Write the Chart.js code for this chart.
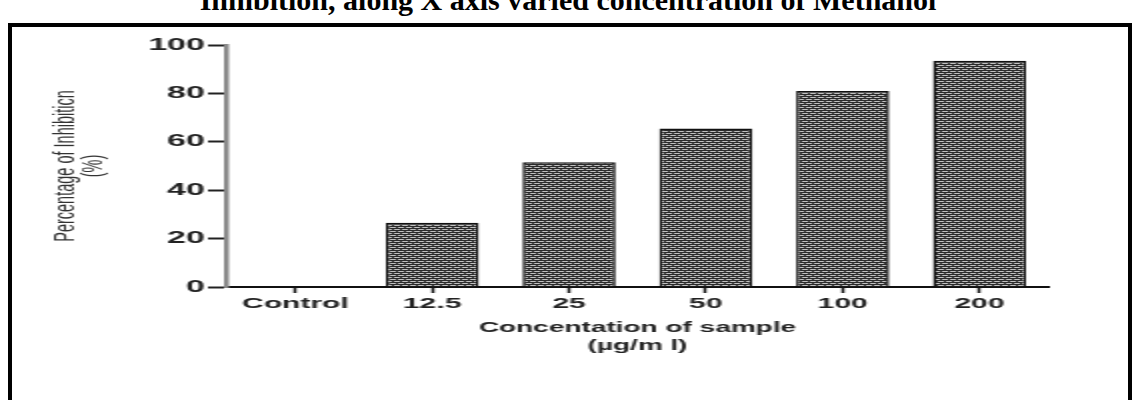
<!DOCTYPE html>
<html><head><meta charset="utf-8">
<script src="https://cdn.jsdelivr.net/npm/chart.js@4"></script>
<style>
html,body{margin:0;padding:0;background:#fff;width:1136px;height:400px;overflow:hidden;position:relative}
#title{position:absolute;left:0;width:1136px;top:-15px;text-align:center;font-family:"Liberation Serif";font-weight:bold;font-size:30px;line-height:30px;white-space:nowrap;color:#000}
#frame{position:absolute;left:8px;top:23px;width:1116px;height:420px;border:4px solid #000}
#wrap{position:absolute;left:0;top:0;width:568px;height:400px;transform:scaleX(2);transform-origin:0 0}
</style></head><body>
<div id="title">Inhibition, along X axis varied concentration of Methanol</div>
<div id="frame"></div>
<div id="wrap"><canvas id="c"></canvas></div>
<script>
const categories = ['Control', '12.5', '25', '50', '100', '200'];
const inhibition = [0, 26.5, 51.5, 65.5, 81, 93.5];
const yTicks = [0, 20, 40, 60, 80, 100];
const yTitle = ['Percentage of Inhibiticn', '(%)'];
const xTitle = ['Concentation of sample', '(µg/m l)'];

function makePattern() {
  const p = document.createElement('canvas');
  p.width = 4; p.height = 4;
  const g = p.getContext('2d');
  g.fillStyle = '#2a2a2a'; g.fillRect(0, 0, 4, 4);
  g.fillStyle = '#c0c0c0';
  g.fillRect(1, 1, 3, 1);
  g.fillRect(0, 3, 2, 1);
  g.fillRect(3, 3, 1, 1);
  return g.createPattern(p, 'repeat');
}

const ctx = document.getElementById('c').getContext('2d');
new Chart(ctx, {
  type: 'bar',
  data: {
    labels: categories,
    datasets: [{
      data: inhibition,
      backgroundColor: makePattern(),
      borderColor: '#111',
      borderWidth: 1.5,
      borderSkipped: 'start',
      barPercentage: 0.68,
      categoryPercentage: 1
    }]
  },
  options: {
    responsive: true,
    maintainAspectRatio: false,
    animation: false,
    layout: { padding: { top: 45, right: 44, bottom: 0, left: 0 } },
    plugins: { legend: { display: false }, tooltip: { enabled: false } },
    scales: {
      x: {
        offset: true,
        grid: { display: true, drawOnChartArea: false, drawTicks: true, tickLength: 6, tickWidth: 1.5, tickColor: '#111', offset: false },
        border: { display: true, color: '#111', width: 2 },
        ticks: { color: '#222', font: { family: 'Liberation Sans', weight: 'bold', size: 15 }, padding: 2, autoSkip: false, maxRotation: 0 },
        title: { display: true, text: xTitle, color: '#222', font: { family: 'Liberation Sans', weight: 'bold', size: 14, lineHeight: 1.3 }, padding: { top: 0, bottom: 45 } },
        afterFit: s => { s.height = 113; }
      },
      y: {
        min: 0, max: 100,
        afterBuildTicks: s => { s.ticks = yTicks.map(v => ({ value: v })); },
        grid: { drawOnChartArea: false, tickLength: 9.5, tickWidth: 2, tickColor: '#222' },
        border: { color: '#8a8a8a', width: 2.5 },
        ticks: { color: '#222', font: { family: 'Liberation Sans', weight: 'bold', size: 17 }, padding: 1.5 },
        title: { display: true, text: yTitle, color: '#333', font: { family: 'Liberation Sans', size: 14.5, lineHeight: 0.95 }, padding: { top: 26.6, bottom: 0 } },
        afterFit: s => { s.width = 113.5; }
      }
    }
  }
});
</script>
</body></html>
